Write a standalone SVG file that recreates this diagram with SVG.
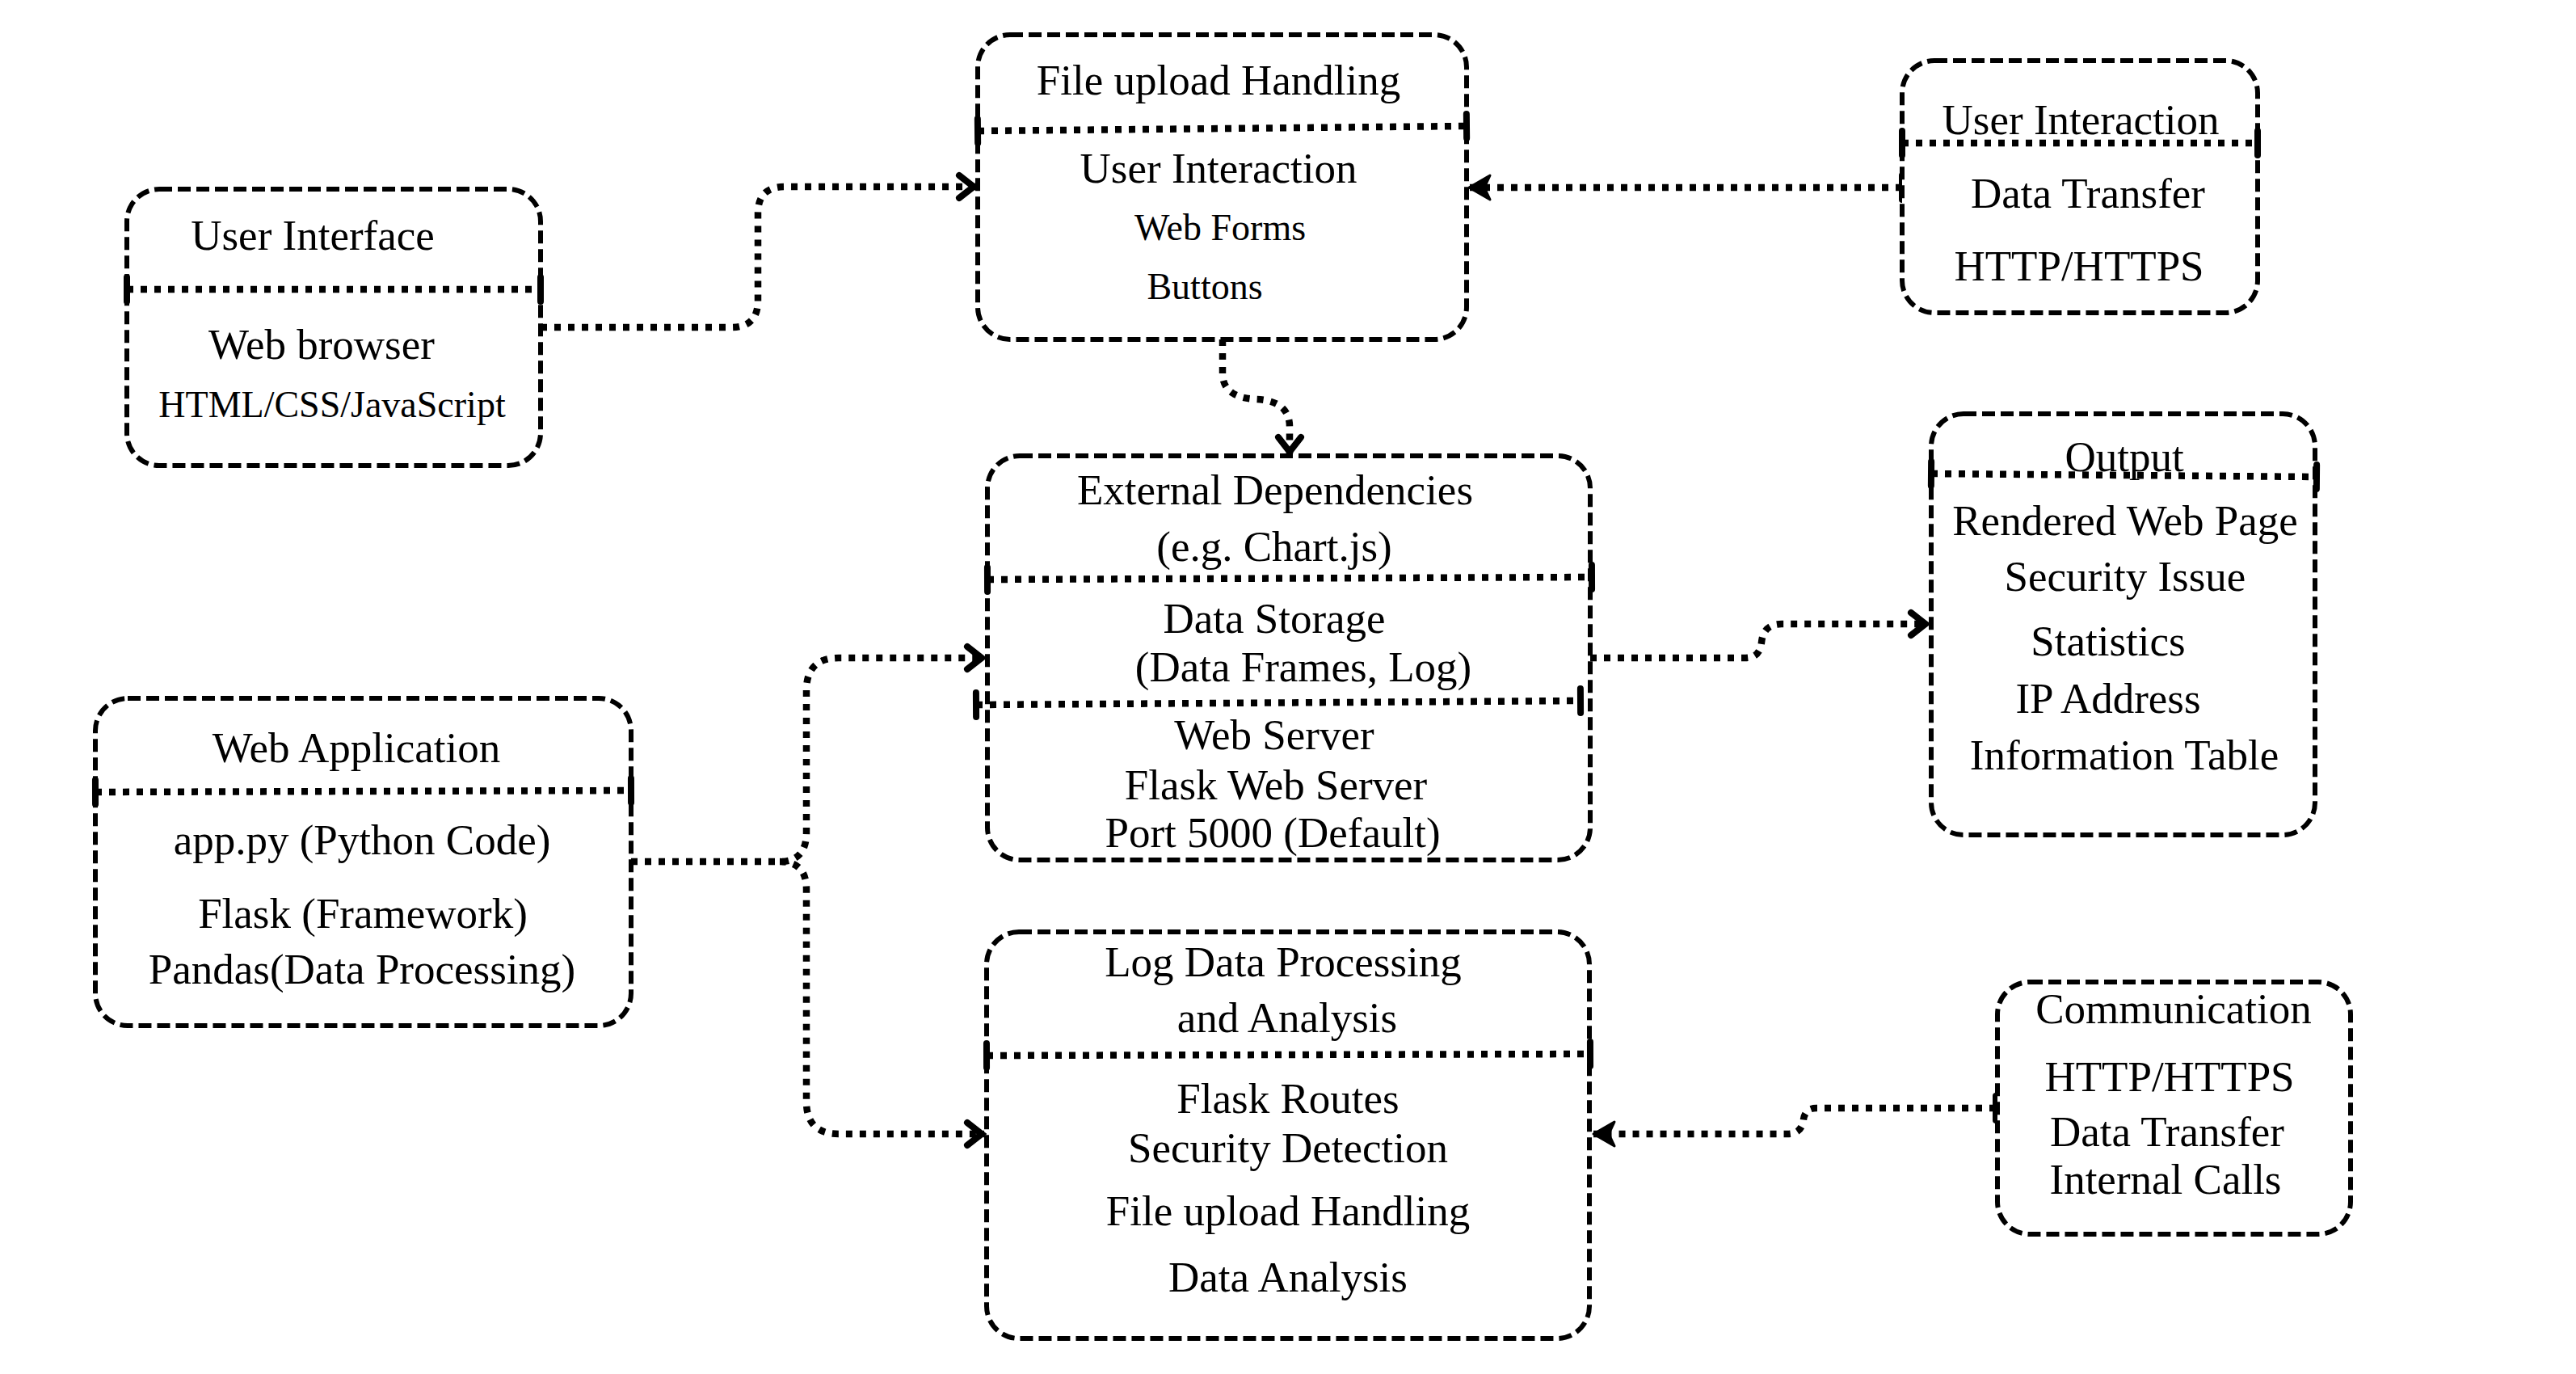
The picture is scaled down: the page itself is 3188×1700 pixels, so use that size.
<svg xmlns="http://www.w3.org/2000/svg" width="3188" height="1700" viewBox="0 0 3188 1700">
<defs>
<style>
.box{fill:#fff;stroke:#000;stroke-width:6;stroke-dasharray:16 7}
.div{fill:none;stroke:#000;stroke-width:8.5;stroke-dasharray:8 9}
.con{fill:none;stroke:#000;stroke-width:8.5;stroke-dasharray:8 9}
text{font-family:"Liberation Serif","Times New Roman",serif;font-size:53px;fill:#000;text-anchor:middle}
text.s{font-size:46px}
</style>
<marker id="tick" markerUnits="userSpaceOnUse" viewBox="-10 -25 20 50" markerWidth="20" markerHeight="50" refX="0" refY="0" orient="auto">
<line x1="0" y1="-15" x2="0" y2="15" stroke="#000" stroke-width="8" stroke-linecap="round"/>
</marker>
<marker id="open" markerUnits="userSpaceOnUse" viewBox="-32 -22 40 44" markerWidth="40" markerHeight="44" refX="0" refY="0" orient="auto">
<path d="M-21,-14 L-3,0 L-21,14" fill="none" stroke="#000" stroke-width="8" stroke-linecap="round" stroke-linejoin="miter"/>
</marker>
<marker id="fill" markerUnits="userSpaceOnUse" viewBox="-32 -22 40 44" markerWidth="40" markerHeight="44" refX="0" refY="0" orient="auto">
<path d="M0,0 L-26,-15 L-19,0 L-26,15 Z" fill="#000" stroke="#000" stroke-width="3" stroke-linejoin="round"/>
</marker>
</defs>
<rect width="3188" height="1700" fill="#fff"/>

<g id="connectors">
<path class="con" d="M669,405 L905,405 Q938,405 938,372 L938,264 Q938,231 971,231 L1208,231" marker-end="url(#open)"/>
<path class="con" d="M2354,232 L1818,232" marker-start="url(#tick)" marker-end="url(#fill)"/>
<path class="con" d="M1513,420 L1513,462 Q1513,492 1555,494 Q1596,496 1596,528 L1596,562" marker-end="url(#open)"/>
<path class="con" d="M781,1066 L965,1066 Q998,1066 998,1030 L998,854 Q998,814 1038,814 L1218,814" marker-end="url(#open)"/>
<path class="con" d="M965,1066 Q998,1066 998,1100 L998,1363 Q998,1403 1038,1403 L1218,1403" marker-end="url(#open)"/>
<path class="con" d="M1968,814 L2160,814 Q2178,814 2180,795 Q2182,772 2205,772 L2386,772" marker-end="url(#open)"/>
<path class="con" d="M2470,1371 L2248,1371 Q2234,1371 2232,1385 Q2230,1403 2212,1403 L1972,1403" marker-start="url(#tick)" marker-end="url(#fill)"/>
</g>

<g id="user-interface">
<rect class="box" x="157" y="234" width="512" height="342" rx="40"/>
<line class="div" x1="157" y1="358" x2="669" y2="358" marker-start="url(#tick)" marker-end="url(#tick)"/>
<text x="387" y="309">User Interface</text>
<text x="398" y="444">Web browser</text>
<text class="s" x="411" y="516">HTML/CSS/JavaScript</text>
</g>

<g id="file-upload">
<rect class="box" x="1210" y="43" width="605" height="377" rx="40"/>
<line class="div" x1="1210" y1="162" x2="1815" y2="156" marker-start="url(#tick)" marker-end="url(#tick)"/>
<text x="1508" y="117">File upload Handling</text>
<text x="1508" y="226">User Interaction</text>
<text class="s" x="1510" y="297">Web Forms</text>
<text class="s" x="1491" y="370">Buttons</text>
</g>

<g id="user-interaction">
<rect class="box" x="2354" y="75" width="440" height="312" rx="40"/>
<line class="div" x1="2354" y1="177" x2="2794" y2="177" marker-start="url(#tick)" marker-end="url(#tick)"/>
<text x="2575" y="166">User Interaction</text>
<text x="2584" y="257">Data Transfer</text>
<text x="2573" y="347">HTTP/HTTPS</text>
</g>

<g id="external-dependencies">
<rect class="box" x="1222" y="564" width="746" height="500" rx="40"/>
<line class="div" x1="1222" y1="717" x2="1970" y2="714" marker-start="url(#tick)" marker-end="url(#tick)"/>
<line class="div" x1="1208" y1="872" x2="1956" y2="867" marker-start="url(#tick)" marker-end="url(#tick)"/>
<text x="1578" y="624">External Dependencies</text>
<text x="1577" y="694">(e.g. Chart.js)</text>
<text x="1577" y="783">Data Storage</text>
<text x="1613" y="843">(Data Frames, Log)</text>
<text x="1577" y="927">Web Server</text>
<text x="1579" y="989">Flask Web Server</text>
<text x="1575" y="1048">Port 5000 (Default)</text>
</g>

<g id="output">
<rect class="box" x="2390" y="512" width="475" height="521" rx="40"/>
<line class="div" x1="2390" y1="586" x2="2867" y2="590" marker-start="url(#tick)" marker-end="url(#tick)"/>
<text x="2629" y="583">Output</text>
<text x="2630" y="662">Rendered Web Page</text>
<text x="2630" y="731">Security Issue</text>
<text x="2609" y="811">Statistics</text>
<text x="2609" y="882">IP Address</text>
<text x="2629" y="952">Information Table</text>
</g>

<g id="web-application">
<rect class="box" x="118" y="864" width="663" height="405" rx="40"/>
<line class="div" x1="118" y1="980" x2="781" y2="978" marker-start="url(#tick)" marker-end="url(#tick)"/>
<text x="441" y="943">Web Application</text>
<text x="448" y="1057">app.py (Python Code)</text>
<text x="449" y="1148">Flask (Framework)</text>
<text x="448" y="1217">Pandas(Data Processing)</text>
</g>

<g id="log-data-processing">
<rect class="box" x="1221" y="1153" width="746" height="503" rx="40"/>
<line class="div" x1="1221" y1="1306" x2="1968" y2="1304" marker-start="url(#tick)" marker-end="url(#tick)"/>
<text x="1588" y="1208">Log Data Processing</text>
<text x="1593" y="1277">and Analysis</text>
<text x="1594" y="1377">Flask Routes</text>
<text x="1594" y="1438">Security Detection</text>
<text x="1594" y="1516">File upload Handling</text>
<text x="1594" y="1598">Data Analysis</text>
</g>

<g id="communication">
<rect class="box" x="2472" y="1215" width="437" height="312" rx="40"/>
<text x="2690" y="1266">Communication</text>
<text x="2685" y="1350">HTTP/HTTPS</text>
<text x="2682" y="1418">Data Transfer</text>
<text x="2680" y="1477">Internal Calls</text>
</g>
</svg>
